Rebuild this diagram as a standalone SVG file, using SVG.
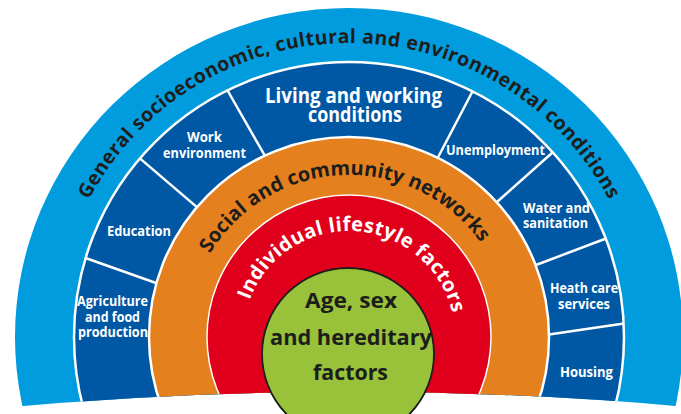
<svg xmlns="http://www.w3.org/2000/svg" width="681" height="414" viewBox="0 0 681 414">
<style>
.lbl{font-family:"Open Sans","Noto Sans","Liberation Sans",sans-serif;font-weight:700;text-anchor:middle}
.w{fill:#fff}
.d{fill:#1d1d1b}
.sm{font-size:14px}
.div{stroke:#fff;stroke-width:2.5;fill:none}
</style>
<defs>
<clipPath id="cut"><path d="M0,0 H681 V406.4 A3770,3770 0 0 0 0,408 Z"/></clipPath>
<path id="pOuter" d="M55,337 A294,294 0 0 1 643,337"/>
<path id="pOrange" d="M187,337 A162,162 0 0 1 511,337"/>
<path id="pRed" d="M243,337 A106,106 0 0 1 455,337"/>
</defs>
<rect width="681" height="414" fill="#fff"/>
<g clip-path="url(#cut)">
 <g id="general">
  <ellipse cx="349" cy="337" rx="334" ry="329" fill="#009CDE"/>
  <text class="lbl d" font-size="19.5"><textPath href="#pOuter" startOffset="50%" textLength="638">General socioeconomic, cultural and environmental conditions</textPath></text>
 </g>
 <g id="living">
  <circle cx="349" cy="337" r="275" fill="#0058A5" stroke="#fff" stroke-width="2.5"/>
 </g>
 <g id="dividers">
  <line class="div" x1="156" y1="283" x2="85.5" y2="258"/>
  <line class="div" x1="196.9" y1="207.1" x2="139.9" y2="158.4"/>
  <line class="div" x1="264.5" y1="155" x2="227" y2="89.5"/>
  <line class="div" x1="438.2" y1="157" x2="473" y2="90.5"/>
  <line class="div" x1="497.5" y1="201.5" x2="552.5" y2="152.5"/>
  <line class="div" x1="536" y1="265" x2="606" y2="238.5"/>
  <line class="div" x1="549" y1="334.5" x2="624" y2="323.5"/>
 </g>
 <g id="living-working">
  <text class="lbl w" font-size="21" x="353.5" y="103" textLength="177" lengthAdjust="spacingAndGlyphs">Living and working</text>
  <text class="lbl w" font-size="21" x="355" y="122" textLength="94" lengthAdjust="spacingAndGlyphs">conditions</text>
 </g>
 <g id="work-environment">
  <text class="lbl w sm" x="204.5" y="142" textLength="35" lengthAdjust="spacingAndGlyphs">Work</text>
  <text class="lbl w sm" x="204.5" y="158" textLength="83" lengthAdjust="spacingAndGlyphs">environment</text>
 </g>
 <g id="education">
  <text class="lbl w sm" x="139" y="236" textLength="64" lengthAdjust="spacingAndGlyphs">Education</text>
 </g>
 <g id="agriculture">
  <text class="lbl w sm" x="112.5" y="305.5" textLength="71" lengthAdjust="spacingAndGlyphs">Agriculture</text>
  <text class="lbl w sm" x="112.5" y="321.5" textLength="55" lengthAdjust="spacingAndGlyphs">and food</text>
  <text class="lbl w sm" x="113" y="337" textLength="70" lengthAdjust="spacingAndGlyphs">production</text>
 </g>
 <g id="unemployment">
  <text class="lbl w sm" x="495.5" y="155" textLength="99" lengthAdjust="spacingAndGlyphs">Unemployment</text>
 </g>
 <g id="water">
  <text class="lbl w sm" x="556.5" y="213" textLength="67" lengthAdjust="spacingAndGlyphs">Water and</text>
  <text class="lbl w sm" x="555.5" y="228" textLength="65" lengthAdjust="spacingAndGlyphs">sanitation</text>
 </g>
 <g id="health">
  <text class="lbl w sm" x="584" y="293" textLength="68" lengthAdjust="spacingAndGlyphs">Heath care</text>
  <text class="lbl w sm" x="584" y="309" textLength="52" lengthAdjust="spacingAndGlyphs">services</text>
 </g>
 <g id="housing">
  <text class="lbl w sm" x="586.5" y="377" textLength="53" lengthAdjust="spacingAndGlyphs">Housing</text>
 </g>
 <g id="social">
  <circle cx="349" cy="337" r="200" fill="#E5801F" stroke="#fff" stroke-width="2.5"/>
  <text class="lbl d" font-size="20"><textPath href="#pOrange" startOffset="48.7%" textLength="321">Social and community networks</textPath></text>
 </g>
 <g id="individual">
  <circle cx="349" cy="337" r="142" fill="#E1001B" stroke="#fff" stroke-width="1.5"/>
  <text class="lbl w" font-size="20"><textPath href="#pRed" startOffset="52%" textLength="271">Individual lifestyle factors</textPath></text>
 </g>
</g>
<g id="age">
 <circle cx="348" cy="354" r="86" fill="#97C23A" stroke="#1d1d1b" stroke-width="1.8"/>
 <text class="lbl d" font-size="21" x="351" y="308" textLength="92" lengthAdjust="spacingAndGlyphs">Age, sex</text>
 <text class="lbl d" font-size="21" x="351" y="344.5" textLength="162" lengthAdjust="spacingAndGlyphs">and hereditary</text>
 <text class="lbl d" font-size="21" x="350.5" y="379.5" textLength="75" lengthAdjust="spacingAndGlyphs">factors</text>
</g>
</svg>
